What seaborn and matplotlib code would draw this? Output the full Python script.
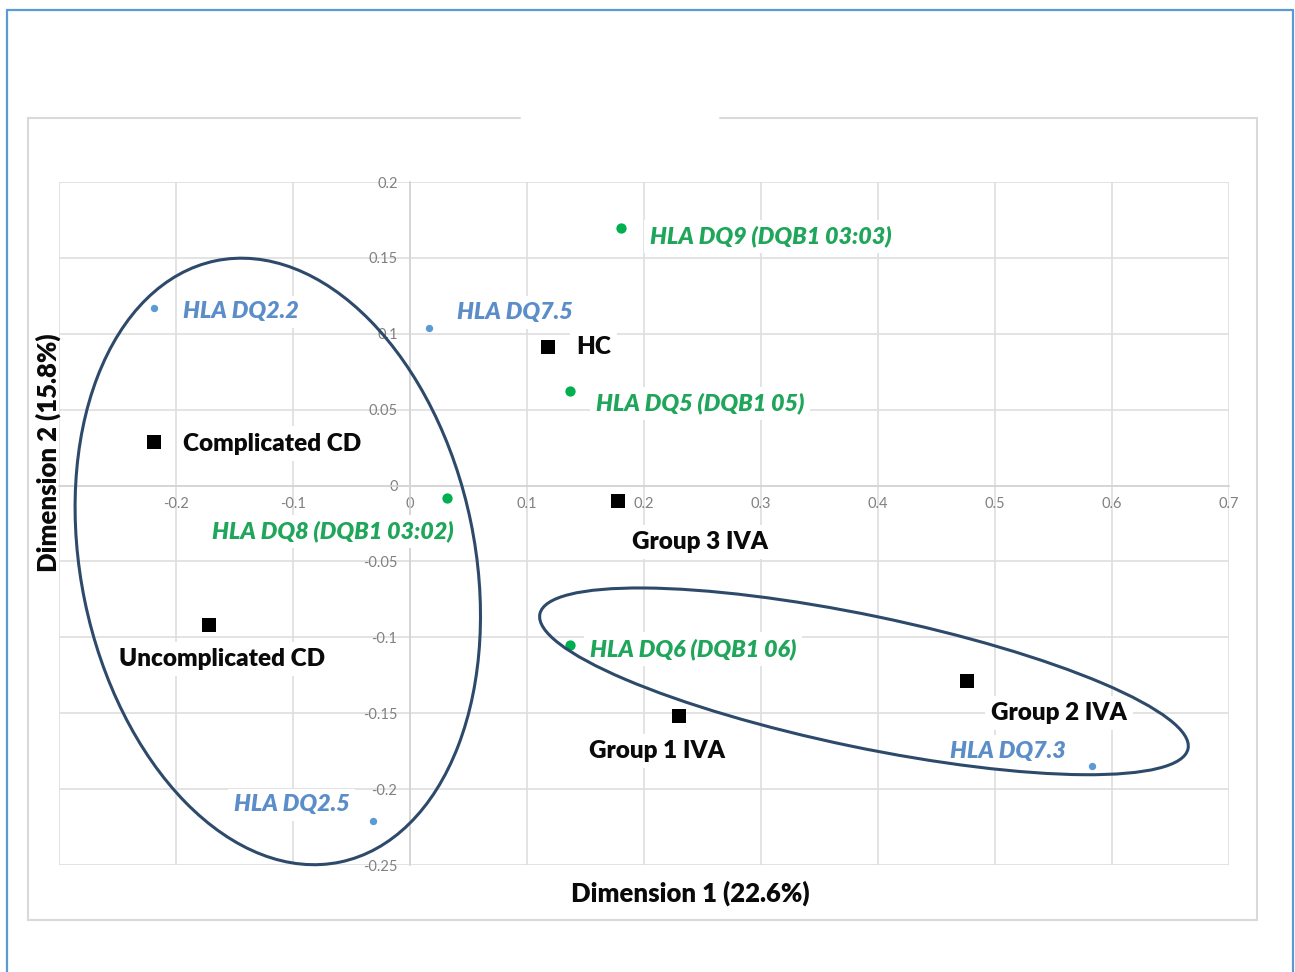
import matplotlib
matplotlib.use("Agg")
import matplotlib.pyplot as plt
import pandas as pd
import seaborn as sns
from matplotlib.patches import Ellipse
from matplotlib.lines import Line2D
from matplotlib.transforms import ScaledTranslation

# ---- data -------------------------------------------------------------
# patient groups (black squares)
group_names = ["HC", "Complicated CD", "Uncomplicated CD",
               "Group 3 IVA", "Group 1 IVA", "Group 2 IVA"]
group_dim1 = [0.118, -0.219, -0.172, 0.178, 0.230, 0.476]
group_dim2 = [0.091, 0.029, -0.092, -0.010, -0.152, -0.129]

# HLA haplotypes (blue dots)
hla_blue_names = ["HLA DQ2.2", "HLA DQ7.5", "HLA DQ2.5", "HLA DQ7.3"]
hla_blue_dim1 = [-0.219, 0.016, -0.032, 0.583]
hla_blue_dim2 = [0.117, 0.104, -0.221, -0.185]

# HLA DQB1 alleles (green dots)
hla_green_names = ["HLA DQ9 (DQB1 03:03)", "HLA DQ5 (DQB1 05)",
                   "HLA DQ8 (DQB1 03:02)", "HLA DQ6 (DQB1 06)"]
hla_green_dim1 = [0.180, 0.137, 0.032, 0.137]
hla_green_dim2 = [0.170, 0.062, -0.008, -0.105]

x_ticks = [-0.3, -0.2, -0.1, 0.0, 0.1, 0.2, 0.3, 0.4, 0.5, 0.6, 0.7]
x_tick_labels = ["", "-0.2", "-0.1", "0", "0.1", "0.2", "0.3", "0.4", "0.5", "0.6", "0.7"]
y_ticks = [-0.25, -0.2, -0.15, -0.1, -0.05, 0.0, 0.05, 0.1, 0.15, 0.2]
y_tick_labels = ["-0.25", "-0.2", "-0.15", "-0.1", "-0.05", "0", "0.05", "0.1", "0.15", "0.2"]

x_title = "Dimension 1 (22.6%)"
y_title = "Dimension 2 (15.8%)"

# ---- style ------------------------------------------------------------
sns.set_style("white")
plt.rcParams["font.family"] = ["Lato", "DejaVu Sans"]

W, H, DPI = 1295, 972, 100
fig = plt.figure(figsize=(W / DPI, H / DPI), dpi=DPI)
fig.patch.set_facecolor("white")


def fx(px):
    return px / W


def fy(py):
    return 1 - py / H


ax = fig.add_axes([fx(59), fy(865), fx(1229) - fx(59), fy(182) - fy(865)])
ax.set_xlim(-0.3, 0.7)
ax.set_ylim(-0.25, 0.2)

grid_col = "#dedede"
ax.set_xticks(x_ticks)
ax.set_xticklabels(x_tick_labels)
ax.set_yticks(y_ticks)
ax.set_yticklabels(y_tick_labels)
ax.grid(True, color=grid_col, lw=1.2, zorder=0)
ax.set_axisbelow(True)
for side in ("top", "right"):
    ax.spines[side].set_visible(False)
ax.spines["left"].set_position(("data", 0))
ax.spines["bottom"].set_position(("data", 0))
for side in ("left", "bottom"):
    ax.spines[side].set_color("#d4d4d4")
    ax.spines[side].set_linewidth(1.2)
ax.tick_params(axis="both", length=0, labelsize=10.5, labelcolor="#808080")
ax.tick_params(axis="y", pad=9)
ax.tick_params(axis="x", pad=8)

# ---- markers ----------------------------------------------------------
groups = pd.DataFrame({"dim1": group_dim1, "dim2": group_dim2, "name": group_names})
blue = pd.DataFrame({"dim1": hla_blue_dim1, "dim2": hla_blue_dim2, "name": hla_blue_names})
green = pd.DataFrame({"dim1": hla_green_dim1, "dim2": hla_green_dim2, "name": hla_green_names})

sns.scatterplot(data=groups, x="dim1", y="dim2", marker="s", s=95, color="black",
                linewidth=0, ax=ax, zorder=5)
sns.scatterplot(data=blue, x="dim1", y="dim2", marker="o", s=28, color="#5B9BD5",
                linewidth=0, ax=ax, zorder=5)
sns.scatterplot(data=green, x="dim1", y="dim2", marker="o", s=55, color="#00B050",
                linewidth=0, ax=ax, zorder=5)
ax.set_xlabel("")
ax.set_ylabel("")

# ---- point labels (offsets in pixels, horizontal alignment) -----------
box = dict(boxstyle="square,pad=0.25", fc="white", ec="none")

group_offsets = {
    "HC": (28, 0, "left"),
    "Complicated CD": (29, -2, "left"),
    "Uncomplicated CD": (-90, -34, "left"),
    "Group 3 IVA": (14, -41, "left"),
    "Group 1 IVA": (-90, -35, "left"),
    "Group 2 IVA": (24, -32, "left"),
}
blue_offsets = {
    "HLA DQ2.2": (29, -4, "left"),
    "HLA DQ7.5": (28, 15, "left"),
    "HLA DQ2.5": (-23, 16, "right"),
    "HLA DQ7.3": (-26, 15, "right"),
}
green_offsets = {
    "HLA DQ9 (DQB1 03:03)": (29, -9, "left"),
    "HLA DQ5 (DQB1 05)": (26, -12, "left"),
    "HLA DQ8 (DQB1 03:02)": (6, -34, "right"),
    "HLA DQ6 (DQB1 06)": (20, -4, "left"),
}


def label_points(df, offsets, color, style, size):
    for _, row in df.iterrows():
        dx, dy, ha = offsets[row["name"]]
        ax.annotate(row["name"], (row["dim1"], row["dim2"]), xytext=(dx, dy),
                    textcoords="offset pixels", ha=ha, va="center",
                    fontsize=size, fontweight="heavy", fontstyle=style,
                    color=color, bbox=box, zorder=4)


label_points(groups, group_offsets, "#0a0a0a", "normal", 17.5)
label_points(blue, blue_offsets, "#5B8EC8", "italic", 16.8)
label_points(green, green_offsets, "#1FA65A", "italic", 16.8)

# ---- cluster rings (centre in data units, size in inches) -------------
ring_col = "#2E4A6B"


def add_ring(cx, cy, major_in, minor_in, angle):
    trans = fig.dpi_scale_trans + ScaledTranslation(cx, cy, ax.transData)
    ax.add_patch(Ellipse((0, 0), width=2 * major_in, height=2 * minor_in, angle=angle,
                         transform=trans, fill=False, ec=ring_col, lw=2.2,
                         zorder=6, clip_on=False))


add_ring(-0.113, -0.050, 3.07, 1.97, 101.7)
add_ring(0.388, -0.129, 3.31, 0.66, -11.75)

# ---- axis titles ------------------------------------------------------
fig.text(fx(690), fy(893), x_title, ha="center", va="center",
         fontsize=18.5, fontweight="heavy", color="#0a0a0a")
fig.text(fx(48), fy(453), y_title, ha="center", va="center", rotation=90,
         fontsize=18.5, fontweight="heavy", color="#0a0a0a")

# ---- chart frame ------------------------------------------------------
frame_col = "#d9d9d9"
segs = [((28, 520), (118, 118)), ((720, 1257), (118, 118)),
        ((1257, 1257), (118, 920)), ((28, 1257), (920, 920)), ((28, 28), (118, 920))]
for xs, ys in segs:
    fig.add_artist(Line2D([fx(v) for v in xs], [fy(v) for v in ys],
                          transform=fig.transFigure, color=frame_col, lw=1.5))

outer_col = "#5B9BD5"
for xs, ys in [((7, 7), (10, 972)), ((7, 1293), (10, 10)), ((1293, 1293), (10, 972))]:
    fig.add_artist(Line2D([fx(v) for v in xs], [fy(v) for v in ys],
                          transform=fig.transFigure, color=outer_col, lw=1.6))

fig.savefig("out.png", dpi=DPI, facecolor="white")
